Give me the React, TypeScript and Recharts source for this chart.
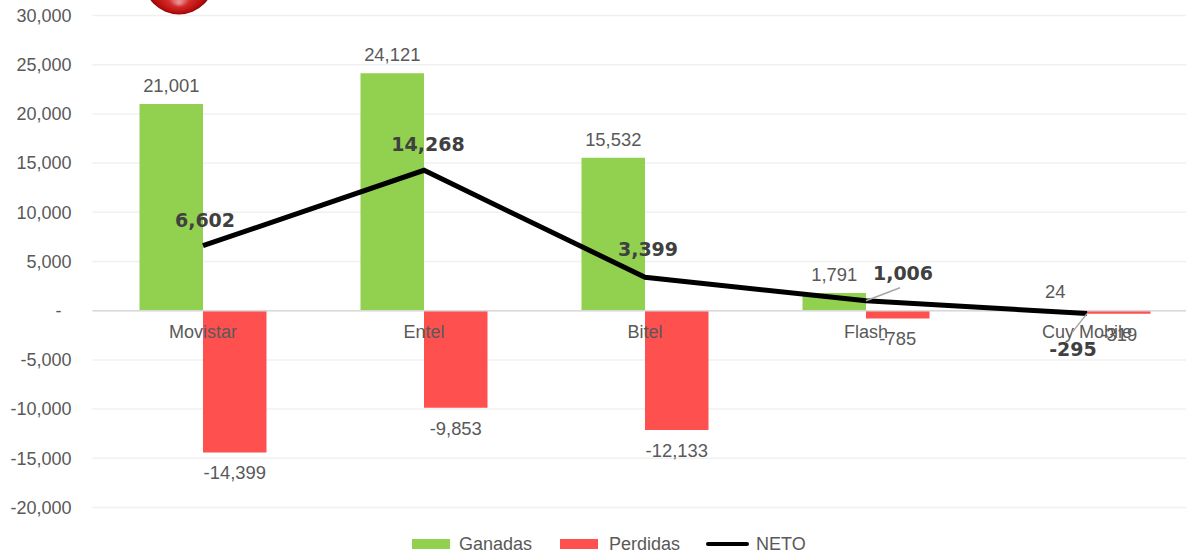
import React from "react";
import { ComposedChart, Bar, Line, XAxis, YAxis, CartesianGrid, ReferenceLine, LabelList, Legend } from "recharts";

const categories = ["Movistar", "Entel", "Bitel", "Flash", "Cuy Mobile"];
const ganadas = [21001, 24121, 15532, 1791, 24];
const perdidas = [-14399, -9853, -12133, -785, -319];
const neto = [6602, 14268, 3399, 1006, -295];
const yTicks = [-20000, -15000, -10000, -5000, 0, 5000, 10000, 15000, 20000, 25000, 30000];

const data = categories.map((name, i) => ({ name, Ganadas: ganadas[i], Perdidas: perdidas[i], NETO: neto[i] }));

// label placement relative to each NETO point: [label dx, baseline dy, leader end dx, leader end dy]
const netoLabelPlacement: number[][] = [
  [2, -19, 0, 0],
  [4, -19, 0, 0],
  [3, -21, 0, 0],
  [37, -21, 34, -13],
  [-14, 42, -15, 19],
];

const TEXT = "#595959";
const FONT = "'Liberation Sans', Arial, sans-serif";
const W = 1215;
const H = 557;
const LEFT = 92.5;
const RIGHT = W - 1197.5;
const TOP = 15.5;
const PLOT_BOTTOM = 49.5;
const plotH = H - TOP - PLOT_BOTTOM;
const zeroShift = (plotH * 20000) / 50000;

const fmt = (v: number) => v.toLocaleString("en-US");
const yFmt = (v: number) => (v === 0 ? "-\u00a0\u00a0" : fmt(v));

const CategoryTick = (p: any) => (
  <text x={p.x} y={H - PLOT_BOTTOM - zeroShift + 27} textAnchor="middle" fontFamily={FONT} fontSize={18} fill={TEXT}>
    {p.payload.value}
  </text>
);

const NetoLabel = (p: any) => {
  const [dx, dy, lx, ly] = netoLabelPlacement[p.index];
  return (
    <g>
      {(lx !== 0 || ly !== 0) && <line x1={p.x} y1={p.y} x2={p.x + lx} y2={p.y + ly} stroke="#a6a6a6" strokeWidth={1.5} />}
      <text x={p.x + dx} y={p.y + dy} textAnchor="middle" fontFamily="'DejaVu Sans', sans-serif" fontWeight={700} fontSize={19} fill="#404040">
        {fmt(p.value)}
      </text>
    </g>
  );
};

const LegendBox = ({ payload }: any) => (
  <div style={{ display: "flex", justifyContent: "flex-start", alignItems: "center", fontFamily: FONT, fontSize: 18, color: TEXT, height: 20 }}>
    {(payload || []).map((e: any, i: number) => (
      <span key={e.value} style={{ display: "inline-flex", alignItems: "center", marginRight: i === 0 ? 28 : 26 }}>
        {e.type === "line" ? (
          <span style={{ width: 43, height: 4, borderRadius: 2, background: e.color, marginRight: 7, display: "inline-block" }} />
        ) : (
          <span style={{ width: 38, height: 10, background: e.color, marginRight: i === 0 ? 9 : 11, display: "inline-block" }} />
        )}
        {e.value}
      </span>
    ))}
  </div>
);

export default function App() {
  return (
    <div style={{ position: "absolute", left: 0, top: 0, width: 1186, height: 557, overflow: "hidden", background: "#fff" }}>
      <ComposedChart
        width={W}
        height={H}
        data={data}
        barGap={0}
        barSize={63.5}
        margin={{ top: TOP, right: RIGHT, bottom: PLOT_BOTTOM - 21, left: 0 }}
      >
        <CartesianGrid horizontal vertical={false} stroke="#f0f0f0" strokeWidth={1.5} />
        <XAxis
          dataKey="name"
          height={1}
          axisLine={false}
          tickLine={false}
          interval={0}
          tick={CategoryTick}
          tickSize={0}
          tickMargin={0}
        />
        <YAxis
          width={LEFT}
          domain={[-20000, 30000]}
          ticks={yTicks}
          interval={0}
          axisLine={false}
          tickLine={false}
          tickSize={0}
          tickMargin={21}
          tickFormatter={yFmt}
          tick={{ fontFamily: FONT, fontSize: 18, fill: TEXT }}
        />
        <ReferenceLine y={0} stroke="#d9d9d9" strokeWidth={1.5} />
        <Bar dataKey="Ganadas" fill="#92d050" isAnimationActive={false}>
          <LabelList dataKey="Ganadas" position="top" offset={12} formatter={fmt} style={{ fontFamily: FONT, fontSize: 18.4, fill: TEXT }} />
        </Bar>
        <Bar dataKey="Perdidas" fill="#ff5050" isAnimationActive={false}>
          <LabelList dataKey="Perdidas" position="top" offset={14} formatter={fmt} style={{ fontFamily: FONT, fontSize: 18.4, fill: TEXT }} />
        </Bar>
        <Line dataKey="NETO" stroke="#000000" strokeWidth={5} dot={false} activeDot={false} type="linear" isAnimationActive={false} legendType="line">
          <LabelList dataKey="NETO" content={NetoLabel} />
        </Line>
        <Legend
          content={LegendBox as any}
          itemSorter={null as any}
          wrapperStyle={{ position: "absolute", left: 412, top: 534, width: 420, height: 20 }}
        />
      </ComposedChart>
      <svg width={80} height={20} style={{ position: "absolute", left: 140, top: 0 }}>
        <defs>
          <radialGradient id="ball" cx="50%" cy="50%" r="50%" gradientUnits="objectBoundingBox" fx="50%" fy="84%">
            <stop offset="0%" stopColor="#e79a9a" />
            <stop offset="35%" stopColor="#d42a2a" />
            <stop offset="80%" stopColor="#bb0f0f" />
            <stop offset="100%" stopColor="#8f0606" />
          </radialGradient>
        </defs>
        <circle cx={39} cy={-21} r={35.5} fill="url(#ball)" />
      </svg>
    </div>
  );
}
